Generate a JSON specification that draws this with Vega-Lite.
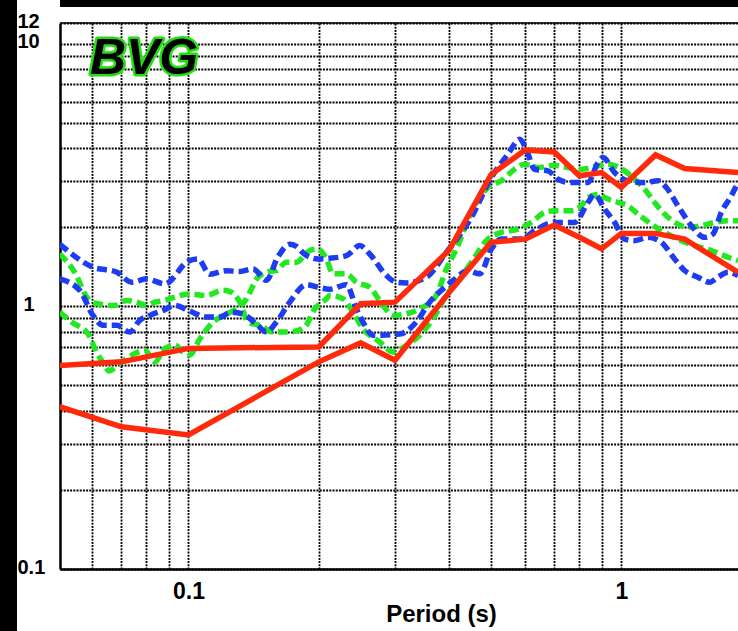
{
  "$schema": "https://vega.github.io/schema/vega-lite/v6.json",
  "background": "white",
  "padding": 0,
  "spacing": 0,
  "config": {"view": {"stroke": null}, "concat": {"spacing": 0}},
  "datasets": {
    "curves": [
      {"series":"G1","kind":"dash","period":0.0504,"amp":1.584},{"series":"G1","kind":"dash","period":0.0546,"amp":1.35},{"series":"G1","kind":"dash","period":0.0586,"amp":1.069},{"series":"G1","kind":"dash","period":0.0618,"amp":1.023},{"series":"G1","kind":"dash","period":0.0676,"amp":1.009},{"series":"G1","kind":"dash","period":0.0719,"amp":1.054},{"series":"G1","kind":"dash","period":0.0758,"amp":1.038},{"series":"G1","kind":"dash","period":0.08,"amp":1.009},{"series":"G1","kind":"dash","period":0.0836,"amp":1.038},{"series":"G1","kind":"dash","period":0.0882,"amp":1.054},{"series":"G1","kind":"dash","period":0.093,"amp":1.085},{"series":"G1","kind":"dash","period":0.0998,"amp":1.116},{"series":"G1","kind":"dash","period":0.11,"amp":1.101},{"series":"G1","kind":"dash","period":0.1202,"amp":1.153},{"series":"G1","kind":"dash","period":0.1257,"amp":1.133},{"series":"G1","kind":"dash","period":0.1314,"amp":1.038},{"series":"G1","kind":"dash","period":0.1373,"amp":0.872},{"series":"G1","kind":"dash","period":0.1461,"amp":0.847},{"series":"G1","kind":"dash","period":0.1568,"amp":0.799},{"series":"G1","kind":"dash","period":0.1714,"amp":0.799},{"series":"G1","kind":"dash","period":0.1856,"amp":0.834},{"series":"G1","kind":"dash","period":0.1958,"amp":0.979},{"series":"G1","kind":"dash","period":0.2083,"amp":1.069},{"series":"G1","kind":"dash","period":0.212,"amp":1.101},{"series":"G1","kind":"dash","period":0.2275,"amp":1.069},{"series":"G1","kind":"dash","period":0.2399,"amp":0.951},{"series":"G1","kind":"dash","period":0.2531,"amp":0.822},{"series":"G1","kind":"dash","period":0.2766,"amp":0.732},{"series":"G1","kind":"dash","period":0.2968,"amp":0.671},{"series":"G1","kind":"dash","period":0.3188,"amp":0.711},{"series":"G1","kind":"dash","period":0.3422,"amp":0.776},{"series":"G1","kind":"dash","period":0.3672,"amp":0.897},{"series":"G1","kind":"dash","period":0.3943,"amp":1.101},{"series":"G1","kind":"dash","period":0.4233,"amp":1.273},{"series":"G1","kind":"dash","period":0.4504,"amp":1.473},{"series":"G1","kind":"dash","period":0.4918,"amp":1.805},{"series":"G1","kind":"dash","period":0.5282,"amp":1.914},{"series":"G1","kind":"dash","period":0.5769,"amp":1.97},{"series":"G1","kind":"dash","period":0.6194,"amp":2.089},{"series":"G1","kind":"dash","period":0.6649,"amp":2.28},{"series":"G1","kind":"dash","period":0.7015,"amp":2.314},{"series":"G1","kind":"dash","period":0.7665,"amp":2.314},{"series":"G1","kind":"dash","period":0.8084,"amp":2.417},{"series":"G1","kind":"dash","period":0.8373,"amp":2.599},{"series":"G1","kind":"dash","period":0.8911,"amp":2.675},{"series":"G1","kind":"dash","period":0.915,"amp":2.599},{"series":"G1","kind":"dash","period":0.982,"amp":2.488},{"series":"G1","kind":"dash","period":1.0356,"amp":2.417},{"series":"G1","kind":"dash","period":1.0922,"amp":2.246},{"series":"G1","kind":"dash","period":1.173,"amp":2.058},{"series":"G1","kind":"dash","period":1.2589,"amp":1.914},{"series":"G1","kind":"dash","period":1.376,"amp":1.78},{"series":"G1","kind":"dash","period":1.4768,"amp":1.704},{"series":"G1","kind":"dash","period":1.6138,"amp":1.632},{"series":"G1","kind":"dash","period":1.763,"amp":1.539},{"series":"G1","kind":"dash","period":1.86,"amp":1.495},
      {"series":"G2","kind":"dash","period":0.0504,"amp":0.951},{"series":"G2","kind":"dash","period":0.0537,"amp":0.872},{"series":"G2","kind":"dash","period":0.0586,"amp":0.787},{"series":"G2","kind":"dash","period":0.0613,"amp":0.671},{"series":"G2","kind":"dash","period":0.0641,"amp":0.597},{"series":"G2","kind":"dash","period":0.0655,"amp":0.568},{"series":"G2","kind":"dash","period":0.07,"amp":0.615},{"series":"G2","kind":"dash","period":0.0752,"amp":0.661},{"series":"G2","kind":"dash","period":0.0793,"amp":0.681},{"series":"G2","kind":"dash","period":0.0836,"amp":0.615},{"series":"G2","kind":"dash","period":0.0882,"amp":0.69},{"series":"G2","kind":"dash","period":0.093,"amp":0.711},{"series":"G2","kind":"dash","period":0.0981,"amp":0.661},{"series":"G2","kind":"dash","period":0.1007,"amp":0.653},{"series":"G2","kind":"dash","period":0.1062,"amp":0.751},{"series":"G2","kind":"dash","period":0.114,"amp":0.872},{"series":"G2","kind":"dash","period":0.1224,"amp":0.935},{"series":"G2","kind":"dash","period":0.1291,"amp":0.979},{"series":"G2","kind":"dash","period":0.1361,"amp":1.066},{"series":"G2","kind":"dash","period":0.1436,"amp":1.269},{"series":"G2","kind":"dash","period":0.1514,"amp":1.35},{"series":"G2","kind":"dash","period":0.1597,"amp":1.37},{"series":"G2","kind":"dash","period":0.1684,"amp":1.473},{"series":"G2","kind":"dash","period":0.1776,"amp":1.473},{"series":"G2","kind":"dash","period":0.1906,"amp":1.632},{"series":"G2","kind":"dash","period":0.1992,"amp":1.654},{"series":"G2","kind":"dash","period":0.2083,"amp":1.516},{"series":"G2","kind":"dash","period":0.2158,"amp":1.33},{"series":"G2","kind":"dash","period":0.2317,"amp":1.33},{"series":"G2","kind":"dash","period":0.2443,"amp":1.236},{"series":"G2","kind":"dash","period":0.2622,"amp":1.184},{"series":"G2","kind":"dash","period":0.2814,"amp":1.009},{"series":"G2","kind":"dash","period":0.2968,"amp":0.924},{"series":"G2","kind":"dash","period":0.3188,"amp":0.937},{"series":"G2","kind":"dash","period":0.3422,"amp":0.979},{"series":"G2","kind":"dash","period":0.3739,"amp":1.101},{"series":"G2","kind":"dash","period":0.3943,"amp":1.389},{"series":"G2","kind":"dash","period":0.4158,"amp":1.654},{"series":"G2","kind":"dash","period":0.4504,"amp":2.28},{"series":"G2","kind":"dash","period":0.4918,"amp":2.837},{"series":"G2","kind":"dash","period":0.5282,"amp":3.007},{"series":"G2","kind":"dash","period":0.5669,"amp":3.328},{"series":"G2","kind":"dash","period":0.5978,"amp":3.476},{"series":"G2","kind":"dash","period":0.6416,"amp":3.379},{"series":"G2","kind":"dash","period":0.7015,"amp":3.446},{"series":"G2","kind":"dash","period":0.7528,"amp":3.379},{"series":"G2","kind":"dash","period":0.8084,"amp":3.328},{"series":"G2","kind":"dash","period":0.8675,"amp":3.408},{"series":"G2","kind":"dash","period":0.9314,"amp":3.476},{"series":"G2","kind":"dash","period":1.0176,"amp":3.282},{"series":"G2","kind":"dash","period":1.0732,"amp":3.05},{"series":"G2","kind":"dash","period":1.1319,"amp":2.795},{"series":"G2","kind":"dash","period":1.1937,"amp":2.488},{"series":"G2","kind":"dash","period":1.2589,"amp":2.246},{"series":"G2","kind":"dash","period":1.3512,"amp":2.058},{"series":"G2","kind":"dash","period":1.425,"amp":2.0},{"series":"G2","kind":"dash","period":1.5305,"amp":2.029},{"series":"G2","kind":"dash","period":1.6426,"amp":2.089},{"series":"G2","kind":"dash","period":1.763,"amp":2.121},{"series":"G2","kind":"dash","period":1.86,"amp":2.121},
      {"series":"B1","kind":"dash","period":0.0504,"amp":1.728},{"series":"B1","kind":"dash","period":0.0602,"amp":1.41},{"series":"B1","kind":"dash","period":0.0682,"amp":1.352},{"series":"B1","kind":"dash","period":0.0739,"amp":1.236},{"series":"B1","kind":"dash","period":0.08,"amp":1.273},{"series":"B1","kind":"dash","period":0.0882,"amp":1.218},{"series":"B1","kind":"dash","period":0.0998,"amp":1.485},{"series":"B1","kind":"dash","period":0.1052,"amp":1.516},{"series":"B1","kind":"dash","period":0.112,"amp":1.326},{"series":"B1","kind":"dash","period":0.1224,"amp":1.367},{"series":"B1","kind":"dash","period":0.1314,"amp":1.358},{"series":"B1","kind":"dash","period":0.141,"amp":1.389},{"series":"B1","kind":"dash","period":0.1514,"amp":1.258},{"series":"B1","kind":"dash","period":0.1608,"amp":1.539},{"series":"B1","kind":"dash","period":0.1714,"amp":1.724},{"series":"B1","kind":"dash","period":0.1776,"amp":1.694},{"series":"B1","kind":"dash","period":0.1856,"amp":1.579},{"series":"B1","kind":"dash","period":0.1992,"amp":1.516},{"series":"B1","kind":"dash","period":0.212,"amp":1.525},{"series":"B1","kind":"dash","period":0.2317,"amp":1.561},{"series":"B1","kind":"dash","period":0.2487,"amp":1.704},{"series":"B1","kind":"dash","period":0.2622,"amp":1.584},{"series":"B1","kind":"dash","period":0.2866,"amp":1.311},{"series":"B1","kind":"dash","period":0.3023,"amp":1.236},{"series":"B1","kind":"dash","period":0.3188,"amp":1.229},{"series":"B1","kind":"dash","period":0.3546,"amp":1.292},{"series":"B1","kind":"dash","period":0.3943,"amp":1.607},{"series":"B1","kind":"dash","period":0.4504,"amp":2.183},{"series":"B1","kind":"dash","period":0.5009,"amp":3.096},{"series":"B1","kind":"dash","period":0.547,"amp":3.794},{"series":"B1","kind":"dash","period":0.5821,"amp":4.326},{"series":"B1","kind":"dash","period":0.6032,"amp":3.964},{"series":"B1","kind":"dash","period":0.6305,"amp":3.328},{"series":"B1","kind":"dash","period":0.6767,"amp":3.282},{"series":"B1","kind":"dash","period":0.7139,"amp":3.05},{"series":"B1","kind":"dash","period":0.7596,"amp":2.963},{"series":"B1","kind":"dash","period":0.8373,"amp":2.963},{"series":"B1","kind":"dash","period":0.8831,"amp":3.528},{"series":"B1","kind":"dash","period":0.9068,"amp":3.686},{"series":"B1","kind":"dash","period":0.965,"amp":3.234},{"series":"B1","kind":"dash","period":1.0356,"amp":3.007},{"series":"B1","kind":"dash","period":1.1319,"amp":2.963},{"series":"B1","kind":"dash","period":1.2148,"amp":3.007},{"series":"B1","kind":"dash","period":1.2703,"amp":2.837},{"series":"B1","kind":"dash","period":1.3512,"amp":2.417},{"series":"B1","kind":"dash","period":1.4511,"amp":2.029},{"series":"B1","kind":"dash","period":1.5575,"amp":1.832},{"series":"B1","kind":"dash","period":1.6276,"amp":1.886},{"series":"B1","kind":"dash","period":1.702,"amp":2.28},{"series":"B1","kind":"dash","period":1.795,"amp":2.638},{"series":"B1","kind":"dash","period":1.86,"amp":2.963},
      {"series":"B2","kind":"dash","period":0.0504,"amp":1.273},{"series":"B2","kind":"dash","period":0.0561,"amp":1.15},{"series":"B2","kind":"dash","period":0.0602,"amp":0.924},{"series":"B2","kind":"dash","period":0.0635,"amp":0.847},{"series":"B2","kind":"dash","period":0.0682,"amp":0.847},{"series":"B2","kind":"dash","period":0.0732,"amp":0.799},{"series":"B2","kind":"dash","period":0.0772,"amp":0.885},{"series":"B2","kind":"dash","period":0.0814,"amp":0.924},{"series":"B2","kind":"dash","period":0.0874,"amp":0.966},{"series":"B2","kind":"dash","period":0.093,"amp":1.009},{"series":"B2","kind":"dash","period":0.1007,"amp":0.96},{"series":"B2","kind":"dash","period":0.11,"amp":0.911},{"series":"B2","kind":"dash","period":0.1181,"amp":0.911},{"series":"B2","kind":"dash","period":0.1257,"amp":0.951},{"series":"B2","kind":"dash","period":0.1337,"amp":0.935},{"series":"B2","kind":"dash","period":0.1436,"amp":0.857},{"series":"B2","kind":"dash","period":0.1514,"amp":0.799},{"series":"B2","kind":"dash","period":0.1597,"amp":0.872},{"series":"B2","kind":"dash","period":0.1714,"amp":1.038},{"series":"B2","kind":"dash","period":0.1873,"amp":1.21},{"series":"B2","kind":"dash","period":0.1992,"amp":1.184},{"series":"B2","kind":"dash","period":0.212,"amp":1.163},{"series":"B2","kind":"dash","period":0.2317,"amp":1.21},{"series":"B2","kind":"dash","period":0.2443,"amp":0.979},{"series":"B2","kind":"dash","period":0.2531,"amp":0.872},{"series":"B2","kind":"dash","period":0.2669,"amp":0.776},{"series":"B2","kind":"dash","period":0.3076,"amp":0.785},{"series":"B2","kind":"dash","period":0.3362,"amp":0.872},{"series":"B2","kind":"dash","period":0.3608,"amp":1.038},{"series":"B2","kind":"dash","period":0.3873,"amp":1.166},{"series":"B2","kind":"dash","period":0.4121,"amp":1.269},{"series":"B2","kind":"dash","period":0.4423,"amp":1.37},{"series":"B2","kind":"dash","period":0.4707,"amp":1.33},{"series":"B2","kind":"dash","period":0.5009,"amp":1.654},{"series":"B2","kind":"dash","period":0.5282,"amp":1.805},{"series":"B2","kind":"dash","period":0.5875,"amp":1.805},{"series":"B2","kind":"dash","period":0.6305,"amp":1.943},{"series":"B2","kind":"dash","period":0.7015,"amp":2.089},{"series":"B2","kind":"dash","period":0.7802,"amp":2.089},{"series":"B2","kind":"dash","period":0.8373,"amp":2.488},{"series":"B2","kind":"dash","period":0.8675,"amp":2.668},{"series":"B2","kind":"dash","period":0.915,"amp":2.346},{"series":"B2","kind":"dash","period":0.965,"amp":2.089},{"series":"B2","kind":"dash","period":1.0176,"amp":1.805},{"series":"B2","kind":"dash","period":1.0732,"amp":1.78},{"series":"B2","kind":"dash","period":1.1519,"amp":1.832},{"series":"B2","kind":"dash","period":1.2371,"amp":1.754},{"series":"B2","kind":"dash","period":1.3277,"amp":1.516},{"series":"B2","kind":"dash","period":1.4003,"amp":1.37},{"series":"B2","kind":"dash","period":1.5029,"amp":1.292},{"series":"B2","kind":"dash","period":1.5993,"amp":1.236},{"series":"B2","kind":"dash","period":1.6716,"amp":1.292},{"series":"B2","kind":"dash","period":1.763,"amp":1.35},{"series":"B2","kind":"dash","period":1.86,"amp":1.311},
      {"series":"R1","kind":"solid","period":0.0504,"amp":0.596},{"series":"R1","kind":"solid","period":0.07,"amp":0.615},{"series":"R1","kind":"solid","period":0.1,"amp":0.692},{"series":"R1","kind":"solid","period":0.2,"amp":0.701},{"series":"R1","kind":"solid","period":0.25,"amp":1.023},{"series":"R1","kind":"solid","period":0.3,"amp":1.038},{"series":"R1","kind":"solid","period":0.4,"amp":1.636},{"series":"R1","kind":"solid","period":0.5,"amp":3.178},{"series":"R1","kind":"solid","period":0.6,"amp":3.944},{"series":"R1","kind":"solid","period":0.7,"amp":3.875},{"series":"R1","kind":"solid","period":0.8,"amp":3.142},{"series":"R1","kind":"solid","period":0.9,"amp":3.234},{"series":"R1","kind":"solid","period":1.0,"amp":2.837},{"series":"R1","kind":"solid","period":1.2,"amp":3.775},{"series":"R1","kind":"solid","period":1.4,"amp":3.349},{"series":"R1","kind":"solid","period":1.86,"amp":3.234},
      {"series":"R2","kind":"solid","period":0.0504,"amp":0.415},{"series":"R2","kind":"solid","period":0.07,"amp":0.348},{"series":"R2","kind":"solid","period":0.1,"amp":0.324},{"series":"R2","kind":"solid","period":0.2,"amp":0.615},{"series":"R2","kind":"solid","period":0.25,"amp":0.726},{"series":"R2","kind":"solid","period":0.3,"amp":0.624},{"series":"R2","kind":"solid","period":0.4,"amp":1.13},{"series":"R2","kind":"solid","period":0.5,"amp":1.754},{"series":"R2","kind":"solid","period":0.6,"amp":1.805},{"series":"R2","kind":"solid","period":0.7,"amp":2.04},{"series":"R2","kind":"solid","period":0.8,"amp":1.833},{"series":"R2","kind":"solid","period":0.9,"amp":1.657},{"series":"R2","kind":"solid","period":1.0,"amp":1.897},{"series":"R2","kind":"solid","period":1.2,"amp":1.897},{"series":"R2","kind":"solid","period":1.4,"amp":1.805},{"series":"R2","kind":"solid","period":1.86,"amp":1.35}
    ],
    "site": [{"name": "BVG", "period": 0.0592, "amp": 7.7}],
    "border": [{"amp": 12}]
  },
  "hconcat": [
    {"width": 17, "height": 631, "data": {"values": []}, "mark": {"type": "point", "opacity": 0}, "view": {"fill": "black", "stroke": null}},
    {
      "spacing": 4,
      "vconcat": [
        {"width": 721, "height": 7, "data": {"values": []}, "mark": {"type": "point", "opacity": 0}, "view": {"fill": "black", "stroke": null}},
        {
          "width": 678,
          "height": 546,
          "layer": [
            {
              "data": {"name": "curves"},
              "transform": [{"filter": "datum.kind == 'dash'"}],
              "mark": {"type": "line", "interpolate": "monotone", "strokeWidth": 5.5, "strokeDash": [10, 5], "clip": true},
              "encoding": {
                "x": {"field": "period", "type": "quantitative", "scale": {"type": "log", "domain": [0.0505, 1.86], "nice": false},
                  "axis": {"values": [0.06,0.07,0.08,0.09,0.1,0.2,0.3,0.4,0.5,0.6,0.7,0.8,0.9,1],
                    "labelExpr": "datum.value == 0.1 ? '0.1' : (datum.value == 1 ? '1' : '')",
                    "grid": true, "gridColor": "black", "gridDash": [2, 1.2], "gridWidth": 1.8, "gridOpacity": 1,
                    "ticks": false, "tickSize": 0,
                    "domain": true, "domainColor": "black", "domainWidth": 2.5,
                    "labelFont": "Liberation Sans", "labelFontSize": 23, "labelFontWeight": "bold", "labelColor": "black",
                    "labelPadding": 11, "labelOverlap": false, "labelFlush": false, "labelBound": false,
                    "title": "Period (s)", "titleFont": "Liberation Sans", "titleFontSize": 24, "titleFontWeight": "bold", "titleColor": "black",
                    "titleX": 381, "titleY": 52, "titleBaseline": "alphabetic", "titleAlign": "center"}},
                "y": {"field": "amp", "type": "quantitative", "scale": {"type": "log", "domain": [0.1, 12], "nice": false},
                  "axis": {"values": [0.1,0.2,0.3,0.4,0.5,0.6,0.7,0.8,0.9,1,2,3,4,5,6,7,8,9,10,12],
                    "labelExpr": "datum.value == 0.1 ? '0.1' : datum.value == 1 ? '1' : datum.value == 10 ? '10' : datum.value == 12 ? '12' : ''",
                    "grid": true, "gridColor": "black", "gridDash": [2, 1.2], "gridWidth": 1.8, "gridOpacity": 1,
                    "ticks": false, "tickSize": 0,
                    "domain": true, "domainColor": "black", "domainWidth": 2.5,
                    "labelFont": "Liberation Sans", "labelFontSize": 20, "labelFontWeight": "bold", "labelColor": "black",
                    "labelAlign": "left", "labelBaseline": "middle",
                    "labelPadding": {"condition": {"test": "datum.value == 1", "value": 37}, "value": 43},
                    "labelOffset": {"condition": {"test": "datum.value == 10", "value": -2}, "value": -2},
                    "labelOverlap": false, "labelFlush": false, "labelBound": false,
                    "title": null}},
                "color": {"field": "series", "type": "nominal", "scale": {"domain": ["G1","G2","B1","B2"], "range": ["#22e822","#22e822","#1e3cf0","#1e3cf0"]}, "legend": null}
              }
            },
            {
              "data": {"name": "curves"},
              "transform": [{"filter": "datum.kind == 'solid'"}],
              "mark": {"type": "line", "strokeWidth": 5.5, "color": "#ff2a0a", "clip": true},
              "encoding": {
                "x": {"field": "period", "type": "quantitative"},
                "y": {"field": "amp", "type": "quantitative"},
                "detail": {"field": "series", "type": "nominal"}
              }
            },
            {
              "data": {"name": "border"},
              "mark": {"type": "rule", "color": "black", "strokeWidth": 1.5},
              "encoding": {"y": {"field": "amp", "type": "quantitative"}}
            },
            {
              "data": {"name": "site"},
              "mark": {"type": "text", "font": "Liberation Sans", "fontSize": 50, "fontWeight": "bold", "fontStyle": "italic", "align": "left", "baseline": "alphabetic", "fill": "#22e010", "stroke": "#22e010", "strokeWidth": 5, "strokeJoin": "round"},
              "encoding": {"x": {"field": "period", "type": "quantitative"}, "y": {"field": "amp", "type": "quantitative"}, "text": {"field": "name"}}
            },
            {
              "data": {"name": "site"},
              "mark": {"type": "text", "font": "Liberation Sans", "fontSize": 50, "fontWeight": "bold", "fontStyle": "italic", "align": "left", "baseline": "alphabetic", "fill": "black"},
              "encoding": {"x": {"field": "period", "type": "quantitative"}, "y": {"field": "amp", "type": "quantitative"}, "text": {"field": "name"}}
            }
          ]
        }
      ]
    }
  ]
}
